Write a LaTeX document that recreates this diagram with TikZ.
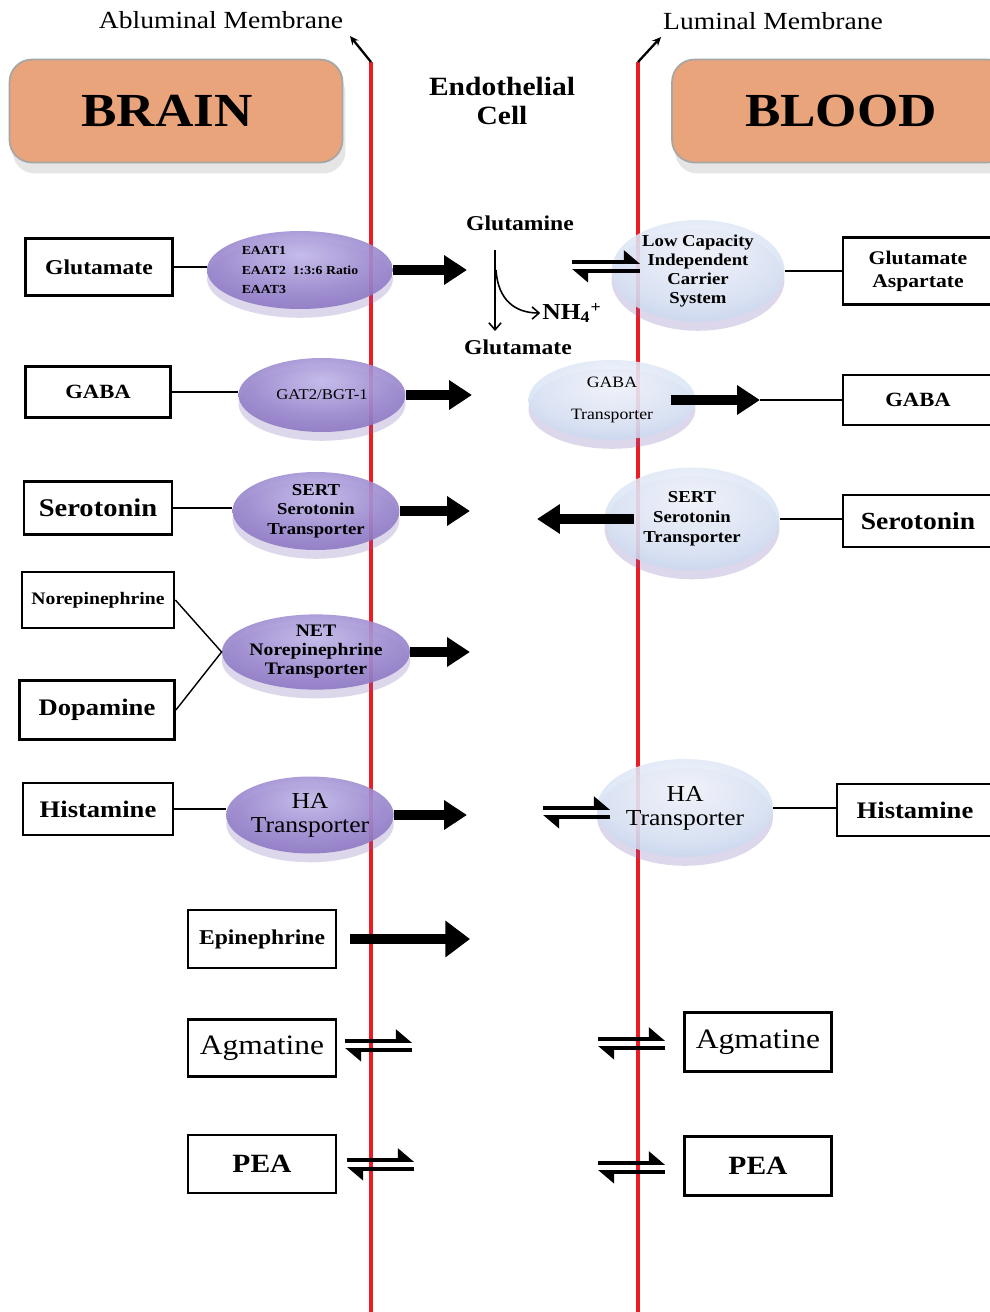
\documentclass[tikz,border=0pt]{standalone}
\usepackage{fontspec}
\setmainfont[FakeStretch=1.12]{Liberation Serif}
\usepackage{tikz}
\usetikzlibrary{shapes.geometric,arrows.meta,shadows}

\definecolor{brainorange}{HTML}{E9A47C}
\definecolor{membranered}{HTML}{EC1C24}
\definecolor{pLight}{HTML}{C4BAEA}
\definecolor{pMid}{HTML}{9A87CE}
\definecolor{pDark}{HTML}{7A60B3}
\definecolor{bLight}{HTML}{F4F7FC}
\definecolor{bMid}{HTML}{D8E3F4}
\definecolor{bDark}{HTML}{B0C0E6}
\pgfdeclareradialshading{purpleball}{\pgfpoint{0bp}{10bp}}{color(0bp)=(pLight); color(22bp)=(pMid); color(46bp)=(pDark); color(100bp)=(pDark)}
\pgfdeclareradialshading{blueball}{\pgfpoint{0bp}{10bp}}{color(0bp)=(bLight); color(25bp)=(bMid); color(46bp)=(bDark); color(100bp)=(bDark)}

\begin{document}
\begin{tikzpicture}[x=0.02cm, y=-0.02cm, % one unit is one pixel, y runs down
  membrane/.style={draw=membranered, line width=2.8pt},
  leader/.style={line width=1.3pt, -{Stealth[length=5pt,width=4.5pt]}},
  headbox/.style={draw=gray!70, line width=1pt, fill=brainorange, rounded corners=0.45cm,
    minimum height=2.06cm, drop shadow={shadow xshift=0.06cm, shadow yshift=-0.22cm, fill=gray!50, opacity=0.4},
    font=\fontsize{27}{30}\selectfont\bfseries},
  box/.style={draw, line width=1.6pt, fill=white, align=center, inner sep=1pt},
  purplecell/.style={ellipse, shading=purpleball, fill opacity=0.9, text opacity=1,
    drop shadow={shadow xshift=0pt, shadow yshift=-5pt, fill=pDark, opacity=0.25}, align=center, inner sep=0pt},
  bluecell/.style={ellipse, shading=blueball, fill opacity=0.87, text opacity=1,
    drop shadow={shadow xshift=0pt, shadow yshift=-5pt, fill=pDark, opacity=0.25}, align=center, inner sep=0pt},
  link/.style={line width=0.8pt},
  fat/.style={line width=5.5pt, -{Triangle[length=13pt,width=16pt]}},
  harp/.style={line width=2.2pt, -{Triangle[harpoon,length=8pt,width=13pt]}},
  thinarrow/.style={line width=0.9pt, -{Straight Barb[length=4pt,width=7pt]}}
]
\path[use as bounding box, fill=white] (0,0) rectangle (990,1312);

% Membranes
\coordinate (ablTop) at (371,62);
\coordinate (ablBot) at (371,1312);
\coordinate (ablTip) at (350,36);
\coordinate (lumTop) at (638,62);
\coordinate (lumBot) at (638,1312);
\coordinate (lumTip) at (661,37);
\draw[membrane] (ablTop) -- (ablBot);
\draw[membrane] (lumTop) -- (lumBot);
\draw[leader] (ablTop) -- (ablTip);
\draw[leader] (lumTop) -- (lumTip);
\node[font=\fontsize{14}{16}\selectfont] (ablLabel) at (221,20) {Abluminal Membrane};
\node[font=\fontsize{14}{16}\selectfont] (lumLabel) at (773,21) {Luminal Membrane};

% Headers
\node[headbox, minimum width=6.66cm] (brain) at (176,111) {BRAIN\kern0.36cm};
\node[headbox, minimum width=6.76cm] (blood) at (841,111) {BLOOD};
\node[font=\fontsize{15}{16}\selectfont\bfseries, align=center] (endo) at (502,101) {Endothelial\\Cell};

% Glutamate
\node[box, minimum width=2.94cm, minimum height=1.14cm, font=\fontsize{12}{14}\selectfont\bfseries] (gluBox) at (99,267) {Glutamate};
\node[purplecell, minimum width=3.72cm, minimum height=1.56cm, align=left, font=\fontsize{7}{11}\selectfont\bfseries] (eaat) at (300,270) {EAAT1\\EAAT2~~1:3:6 Ratio\\EAAT3};
\node[font=\fontsize{12}{14}\selectfont\bfseries] (glnTxt) at (520,223) {Glutamine};
\node[font=\fontsize{12}{14}\selectfont\bfseries] (gluTxt) at (518,347) {Glutamate};
\node[font=\fontsize{13}{14}\selectfont\bfseries, inner sep=1pt] (nh4) at (572,313) {NH\textsubscript{4}\textsuperscript{+}};
\node[bluecell, minimum width=3.46cm, minimum height=1.76cm, font=\fontsize{9.5}{10.8}\selectfont\bfseries] (lcic) at (698,271) {Low Capacity\\Independent\\Carrier\\System};
\node[box, minimum width=3.0cm, minimum height=1.34cm, font=\fontsize{11}{13}\selectfont\bfseries] (gluAspBox) at (918,271) {Glutamate\\Aspartate};
\coordinate (eaatTip) at (467,270);
\coordinate (glnTop) at (495,250);
\coordinate (glnBot) at (495,331);
\coordinate (glnMid) at (496,270);
\draw[link] (gluBox.east) -- (gluBox.east -| eaat.west);
\draw[fat] (eaat.east) -- (eaatTip);
\draw[thinarrow] (glnTop) -- (glnBot);
\draw[thinarrow] (glnMid) .. controls (498,300) and (515,313) .. (nh4.west);
\draw[link] (lcic.east) -- (lcic.east -| gluAspBox.west);

% GABA
\node[box, minimum width=2.9cm, minimum height=1.02cm, font=\fontsize{11.5}{13}\selectfont\bfseries] (gabaBox) at (98,392) {GABA};
\node[purplecell, minimum width=3.34cm, minimum height=1.48cm, font=\fontsize{8.5}{10}\selectfont] (gat) at (322,395) {GAT2/BGT-1};
\node[bluecell, minimum width=3.34cm, minimum height=1.6cm, font=\fontsize{9}{18}\selectfont] (gabaT) at (612,400) {GABA\\Transporter};
\node[box, minimum width=3.0cm, minimum height=1.0cm, font=\fontsize{11.5}{13}\selectfont\bfseries] (gabaBoxR) at (918,400) {GABA};
\coordinate (gatTip) at (472,395);
\coordinate (gabaTTip) at (760,400);
\draw[link] (gabaBox.east) -- (gabaBox.east -| gat.west);
\draw[fat] (gat.east) -- (gatTip);
\draw[fat, shorten <=-0.5cm] (gabaT.east) -- (gabaTTip);
\draw[link] (gabaTTip) -- (gabaBoxR);

% Serotonin
\node[box, minimum width=2.96cm, minimum height=1.06cm, font=\fontsize{14.5}{16}\selectfont\bfseries] (seroBox) at (98,508) {Serotonin};
\node[purplecell, minimum width=3.34cm, minimum height=1.56cm, font=\fontsize{9.5}{11}\selectfont\bfseries] (sertL) at (316,511) {SERT\\Serotonin\\Transporter};
\node[bluecell, minimum width=3.5cm, minimum height=2.06cm, font=\fontsize{9.5}{11.3}\selectfont\bfseries] (sertR) at (692,519) {SERT\\Serotonin\\Transporter};
\node[box, minimum width=3.0cm, minimum height=1.04cm, font=\fontsize{14}{16}\selectfont\bfseries] (seroBoxR) at (918,521) {Serotonin};
\coordinate (sertLTip) at (470,511);
\coordinate (sertRTip) at (537,519);
\draw[link] (seroBox.east) -- (seroBox.east -| sertL.west);
\draw[fat] (sertL.east) -- (sertLTip);
\draw[fat, shorten <=-0.6cm] (sertR.west) -- (sertRTip);
\draw[link] (sertR.east) -- (sertR.east -| seroBoxR.west);

% Norepinephrine and Dopamine
\node[box, minimum width=3.04cm, minimum height=1.12cm, font=\fontsize{10}{12}\selectfont\bfseries] (norBox) at (98,600) {Norepinephrine};
\node[box, minimum width=3.1cm, minimum height=1.18cm, font=\fontsize{13.5}{15}\selectfont\bfseries] (dopaBox) at (97,710) {Dopamine};
\node[purplecell, minimum width=3.32cm, minimum height=1.44cm, font=\fontsize{10}{10.8}\selectfont\bfseries] (net) at (316,652) {NET\\Norepinephrine\\Transporter};
\coordinate (netTip) at (470,652);
\draw[link] (norBox.east) -- (net.west) -- (dopaBox.east);
\draw[fat] (net.east) -- (netTip);

% Histamine
\node[box, minimum width=3.0cm, minimum height=1.04cm, font=\fontsize{13.5}{15}\selectfont\bfseries] (histBox) at (98,809) {Histamine};
\node[purplecell, minimum width=3.32cm, minimum height=1.54cm, font=\fontsize{13}{13.6}\selectfont] (haL) at (310,815) {HA\\Transporter};
\node[bluecell, minimum width=3.52cm, minimum height=1.96cm, font=\fontsize{13}{13.6}\selectfont] (haR) at (685,808) {HA\\Transporter};
\node[box, minimum width=3.12cm, minimum height=1.04cm, font=\fontsize{13.5}{15}\selectfont\bfseries] (histBoxR) at (915,810) {Histamine};
\coordinate (haLTip) at (467,815);
\coordinate (haEqA) at (543,808);
\coordinate (haEqB) at (610,808);
\draw[link] (histBox.east) -- (histBox.east -| haL.west);
\draw[fat] (haL.east) -- (haLTip);
\draw[harp] (haEqA) -- (haEqB);
\draw[harp] ([yshift=-5pt]haEqB) -- ([yshift=-5pt]haEqA);
\draw[link] (haR.east) -- (haR.east -| histBoxR.west);

% Glutamine exchange at luminal side
\coordinate (glnEqA) at (572,262);
\coordinate (glnEqB) at (640,262);
\draw[harp] (glnEqA) -- (glnEqB);
\draw[harp] ([yshift=-5pt]glnEqB) -- ([yshift=-5pt]glnEqA);

% Epinephrine
\node[box, minimum width=2.96cm, minimum height=1.16cm, font=\fontsize{12}{14}\selectfont\bfseries] (epiBox) at (262,939) {Epinephrine};
\coordinate (epiTip) at (470,939);
\draw[fat, shorten <=0.26cm, -{Triangle[length=14pt,width=20pt]}] (epiBox.east) -- (epiTip);

% Agmatine
\node[box, minimum width=2.96cm, minimum height=1.14cm, font=\fontsize{16}{18}\selectfont] (agmBox) at (262,1048) {Agmatine};
\node[box, minimum width=2.94cm, minimum height=1.18cm, font=\fontsize{16}{18}\selectfont] (agmBoxR) at (758,1042) {Agmatine};
\coordinate (agmEqA) at (345,1041);
\coordinate (agmEqB) at (412,1041);
\coordinate (agmEqC) at (598,1039);
\coordinate (agmEqD) at (665,1039);
\draw[harp] (agmEqA) -- (agmEqB);
\draw[harp] ([yshift=-5pt]agmEqB) -- ([yshift=-5pt]agmEqA);
\draw[harp] (agmEqC) -- (agmEqD);
\draw[harp] ([yshift=-5pt]agmEqD) -- ([yshift=-5pt]agmEqC);

% PEA
\node[box, minimum width=2.96cm, minimum height=1.16cm, font=\fontsize{15}{17}\selectfont\bfseries] (peaBox) at (262,1164) {PEA};
\node[box, minimum width=2.94cm, minimum height=1.18cm, font=\fontsize{15}{17}\selectfont\bfseries] (peaBoxR) at (758,1166) {PEA};
\coordinate (peaEqA) at (347,1160);
\coordinate (peaEqB) at (414,1160);
\coordinate (peaEqC) at (598,1163);
\coordinate (peaEqD) at (665,1163);
\draw[harp] (peaEqA) -- (peaEqB);
\draw[harp] ([yshift=-5pt]peaEqB) -- ([yshift=-5pt]peaEqA);
\draw[harp] (peaEqC) -- (peaEqD);
\draw[harp] ([yshift=-5pt]peaEqD) -- ([yshift=-5pt]peaEqC);

\end{tikzpicture}
\end{document}
